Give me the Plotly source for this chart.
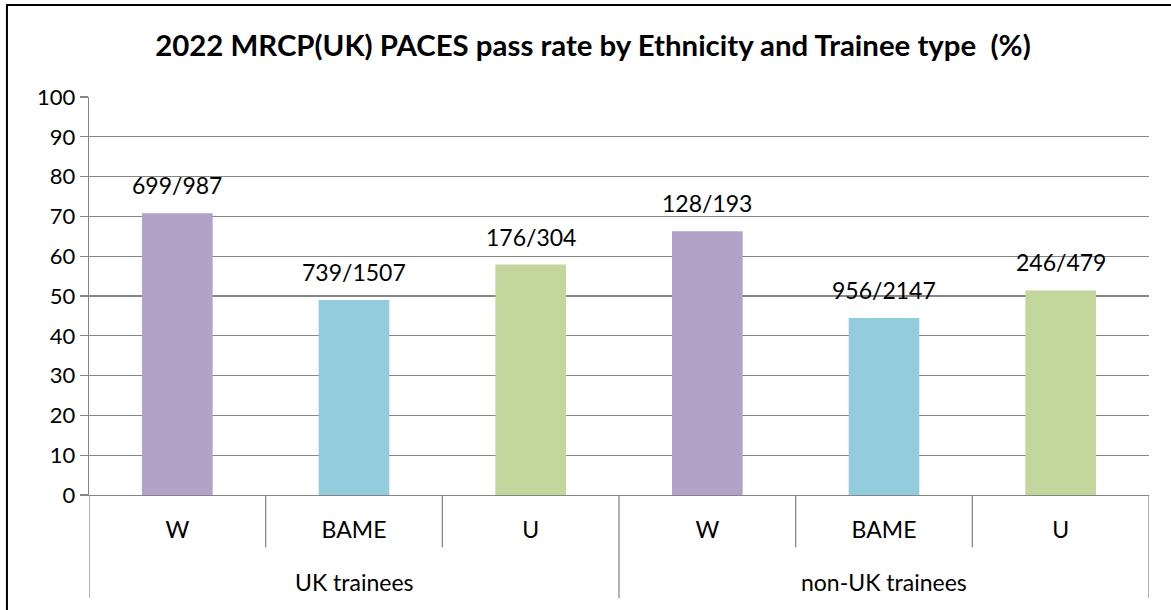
import plotly.graph_objects as go

groups = ["UK trainees"] * 3 + ["non-UK trainees"] * 3
categories = ["W", "BAME", "U", "W", "BAME", "U"]
pass_rates = [70.8, 49.0, 57.9, 66.3, 44.5, 51.4]
labels = ["699/987", "739/1507", "176/304", "128/193", "956/2147", "246/479"]
colors = ["#B3A2C7", "#93CDDD", "#C3D69B", "#B3A2C7", "#93CDDD", "#C3D69B"]
y_ticks = list(range(0, 101, 10))

FONT = "Lato"
GRID = "#868686"

positions = list(range(len(categories)))

fig = go.Figure()
fig.add_trace(go.Bar(
    x=positions,
    y=pass_rates,
    marker=dict(color=colors, line=dict(width=0)),
    width=0.4,
    showlegend=False,
    hoverinfo="skip",
))

# data labels above bars
for i, (v, lab) in enumerate(zip(pass_rates, labels)):
    fig.add_annotation(x=i, y=v, text=lab, showarrow=False, yanchor="middle",
                       yshift=28, font=dict(family=FONT, size=23, color="#000"))

# group labels (second level of the category axis)
group_names = list(dict.fromkeys(groups))
for g in group_names:
    idx = [i for i, gg in enumerate(groups) if gg == g]
    fig.add_annotation(x=sum(idx) / len(idx), y=-0.219, xref="x", yref="paper",
                       text=g, showarrow=False, yanchor="middle",
                       font=dict(family=FONT, size=23, color="#000"))

# inner category tick marks (boundaries) and group dividers
for i in range(1, len(categories)):
    if groups[i] == groups[i - 1]:
        fig.add_shape(type="line", xref="x", yref="paper", x0=i - 0.5, x1=i - 0.5,
                      y0=0, y1=-0.131, line=dict(color=GRID, width=1.25))
    else:
        fig.add_shape(type="line", xref="x", yref="paper", x0=i - 0.5, x1=i - 0.5,
                      y0=0, y1=-0.259, line=dict(color=GRID, width=1.25))
for b in [-0.5, len(categories) - 0.5]:
    fig.add_shape(type="line", xref="x", yref="paper", x0=b, x1=b, y0=0, y1=-0.259,
                  line=dict(color=GRID, width=1.25))

# outer chart border
fig.add_shape(type="rect", xref="paper", yref="paper",
              x0=-0.0774, x1=1.05, y0=1.231, y1=-0.4,
              line=dict(color="#000", width=2), layer="above")

fig.update_layout(
    width=1171, height=610,
    margin=dict(l=89, r=22, t=97, b=115),
    paper_bgcolor="white", plot_bgcolor="white",
    title=dict(text="<b>2022 MRCP(UK) PACES pass rate by Ethnicity and Trainee type  (%)</b>",
               x=0.5064, xanchor="center", xref="container",
               y=0.925, yanchor="middle", yref="container",
               font=dict(family=FONT, size=29.4, color="#000")),
    font=dict(family=FONT, size=20, color="#000"),
)
fig.update_xaxes(
    range=[-0.5, len(categories) - 0.5],
    tickvals=positions, ticktext=categories,
    showgrid=False, zeroline=False,
    showline=True, linecolor=GRID, linewidth=1.25,
    ticks="", ticklabelstandoff=14,
    tickfont=dict(family=FONT, size=23, color="#000"),
    automargin=False,
)
fig.update_yaxes(
    range=[0, 100], tickvals=y_ticks,
    showgrid=True, gridcolor=GRID, gridwidth=1.25,
    showline=True, linecolor=GRID, linewidth=1.25,
    ticks="outside", ticklen=8, tickcolor=GRID, tickwidth=1.25,
    tickfont=dict(family=FONT, size=22, color="#000"),
    zeroline=False, automargin=False,
)

fig.write_html("out.html",
               config={"displayModeBar": False, "staticPlot": True},
               post_script="document.body.style.margin='0';document.body.style.overflow='hidden';")
